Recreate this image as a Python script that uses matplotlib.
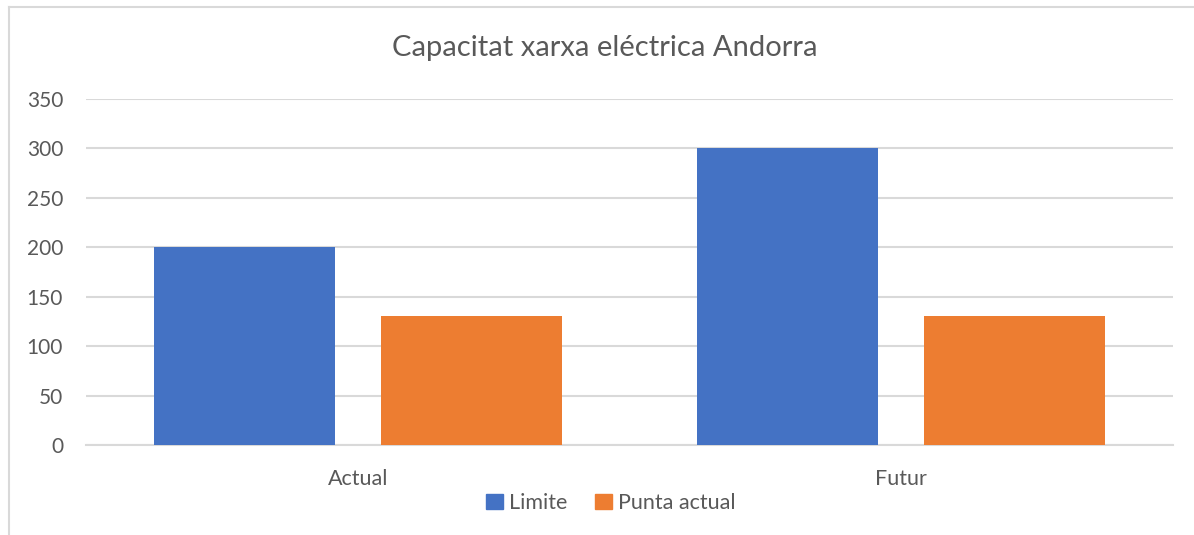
import matplotlib
matplotlib.use("Agg")
import matplotlib.pyplot as plt
from matplotlib.lines import Line2D
from matplotlib.patches import Patch
import numpy as np

categories = ["Actual", "Futur"]
series_names = ["Limite", "Punta actual"]
limite = [200, 300]
punta_actual = [130, 130]
yticks = [0, 50, 100, 150, 200, 250, 300, 350]
title = "Capacitat xarxa eléctrica Andorra"

colors = ["#4472C4", "#ED7D31"]
text_color = "#595959"
grid_color = "#D9D9D9"

plt.rcParams['font.family'] = ['Lato', 'DejaVu Sans']

W, H = 1194, 535
fig = plt.figure(figsize=(W / 100, H / 100), dpi=100)

# chart border (left and top visible)
fig.add_artist(Line2D([9 / W, 9 / W], [0, 1 - 7 / H], color=grid_color, lw=1.5, transform=fig.transFigure))
fig.add_artist(Line2D([9 / W, 1], [1 - 7 / H, 1 - 7 / H], color=grid_color, lw=1.5, transform=fig.transFigure))

ax = fig.add_axes([86 / W, 1 - 445 / H, (1173 - 86) / W, (445 - 99) / H])
x = np.arange(len(categories))
width = 0.333
off = 0.2088
ax.bar(x - off, limite, width, color=colors[0], label=series_names[0], zorder=3)
ax.bar(x + off, punta_actual, width, color=colors[1], label=series_names[1], zorder=3)

ax.set_xlim(-0.5, len(categories) - 0.5)
ax.set_ylim(0, 350)
ax.set_yticks(yticks)
ax.set_yticklabels([str(v) for v in yticks])
ax.set_xticks(x)
ax.set_xticklabels(categories)
ax.yaxis.grid(True, color=grid_color, lw=1.5, zorder=0)
ax.set_axisbelow(True)
for s in ["top", "right", "left"]:
    ax.spines[s].set_visible(False)
ax.spines["bottom"].set_color(grid_color)
ax.spines["bottom"].set_linewidth(1.5)
ax.tick_params(axis="y", length=0, colors=text_color, labelsize=15, pad=16.5)
ax.tick_params(axis="x", length=0, colors=text_color, labelsize=15.5, pad=17)

fig.text(605 / W, 1 - 48 / H, title, ha="center", va="center", fontsize=21, color=text_color)

handles = [Patch(color=c, label=n) for c, n in zip(colors, series_names)]
fig.legend(handles=handles, loc="center", bbox_to_anchor=(611 / W, 1 - 503 / H), ncol=2,
           frameon=False, fontsize=15.5, labelcolor=text_color, handlelength=0.75, handleheight=0.75,
           handletextpad=0.3, columnspacing=1.3)

fig.savefig("out.png", dpi=100, facecolor="white")
